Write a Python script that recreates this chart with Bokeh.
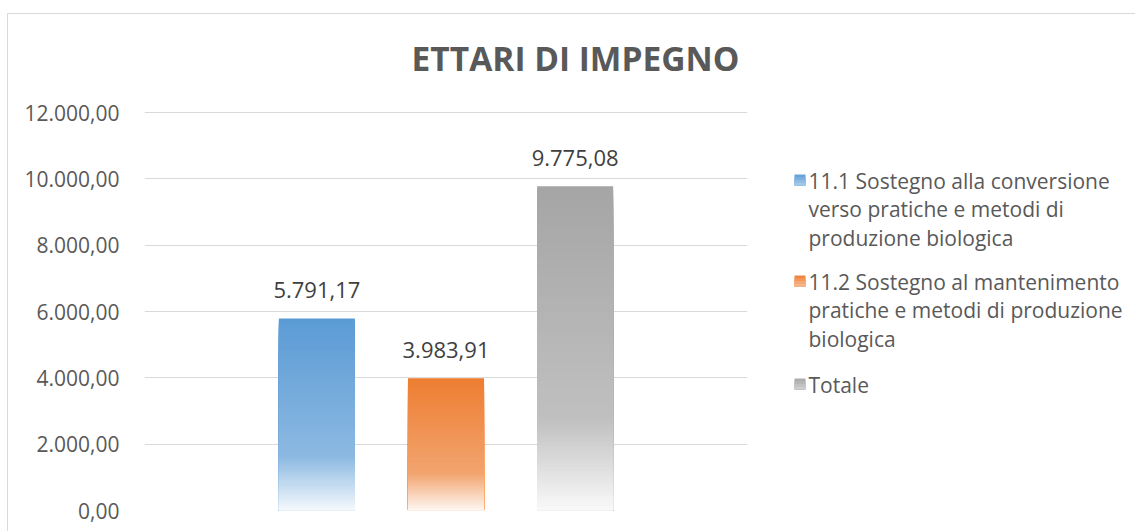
from bokeh.plotting import figure
from bokeh.layouts import row
from bokeh.models import Range1d, FixedTicker, ColumnDataSource
from bokeh.embed import file_html
from bokeh.resources import INLINE
from bokeh.core.properties import value

# ---------------- data ----------------
title_text = "ETTARI DI IMPEGNO"
series_names = [
    "11.1 Sostegno alla conversione verso pratiche e metodi di produzione biologica",
    "11.2 Sostegno al mantenimento pratiche e metodi di produzione biologica",
    "Totale",
]
legend_lines = [
    ["11.1 Sostegno alla conversione", "verso pratiche e metodi di", "produzione biologica"],
    ["11.2 Sostegno al mantenimento", "pratiche e metodi di produzione", "biologica"],
    ["Totale"],
]
series_values = [5791.17, 3983.91, 9775.08]
series_colors = ["#5B9BD5", "#ED7D31", "#A5A5A5"]
y_ticks = [0, 2000, 4000, 6000, 8000, 10000, 12000]
y_tick_labels = ["0,00", "2.000,00", "4.000,00", "6.000,00", "8.000,00", "10.000,00", "12.000,00"]


def it_fmt(v):
    s = f"{v:,.2f}"
    return s.replace(",", "X").replace(".", ",").replace("X", ".")


def hex_to_rgb(h):
    h = h.lstrip("#")
    return tuple(int(h[i:i + 2], 16) for i in (0, 2, 4))


def tint(h, f):
    r, g, b = hex_to_rgb(h)
    return "#%02x%02x%02x" % tuple(int(round(c + (255 - c) * f)) for c in (r, g, b))


def fade(t):
    # t: 0 at bar top, 1 at bar bottom -> amount of white mixed in
    stops = [(0.0, 0.0), (0.72, 0.30), (1.0, 0.94)]
    for (t0, f0), (t1, f1) in zip(stops[:-1], stops[1:]):
        if t <= t1:
            return f0 + (f1 - f0) * (t - t0) / (t1 - t0)
    return stops[-1][1]


FONT = "Open Sans"
TXT = "#595959"
BORDER = "1px solid #D9D9D9"

# ---------------- layout (page pixels) ----------------
PAGE_TOP = 14          # first pixel below the top border
FRAME_LEFT, FRAME_RIGHT = 144, 747
PX_TOP_TICK, PX_ZERO = 112, 510   # pixel rows of the top tick and of zero
X_LO, X_HI = -1.335, 3.335

y_top_value = y_ticks[-1] * (PX_ZERO - PAGE_TOP) / (PX_ZERO - PX_TOP_TICK)


def px_to_x(px):
    return X_LO + (px - FRAME_LEFT) * (X_HI - X_LO) / (FRAME_RIGHT - FRAME_LEFT)


def px_to_y(py):
    return (PX_ZERO - py) * y_ticks[-1] / (PX_ZERO - PX_TOP_TICK)


# ---------------- chart ----------------
p = figure(
    width=752, height=518,
    x_range=Range1d(X_LO, X_HI), y_range=Range1d(0, y_top_value),
    output_backend="svg", toolbar_location=None,
    min_border_left=FRAME_LEFT - 8, min_border_right=13, min_border_top=0, min_border_bottom=22,
)
p.styles = {"border-top": BORDER, "border-left": BORDER}
p.outline_line_color = None
p.background_fill_color = "white"
p.border_fill_color = "white"
p.xaxis.visible = False
p.xgrid.visible = False
p.ygrid.grid_line_color = "#D9D9D9"
p.ygrid.grid_line_width = 1
p.yaxis.ticker = FixedTicker(ticks=y_ticks)
p.yaxis.major_label_overrides = {t: l for t, l in zip(y_ticks, y_tick_labels)}
p.yaxis.axis_line_color = None
p.yaxis.major_tick_line_color = None
p.yaxis.minor_tick_line_color = None
p.yaxis.major_label_standoff = 19
p.yaxis.major_label_text_font = FONT
p.yaxis.major_label_text_font_size = "21px"
p.yaxis.major_label_text_color = TXT

# title
p.text(x=[px_to_x(575)], y=[px_to_y(57)], text=[title_text], text_align="center", text_baseline="middle",
       text_font=value(FONT), text_font_size="33.5px", text_font_style="bold", text_color=TXT)

# gradient bars: nested slices, tallest first
N = 90
xs, tops, cols = [], [], []
for k in range(N):
    t = k / N
    for i, (v, c) in enumerate(zip(series_values, series_colors)):
        xs.append(i)
        tops.append(v * (1 - t))
        cols.append(tint(c, fade(t + 0.5 / N)))
src = ColumnDataSource(dict(x=xs, top=tops, color=cols))
p.vbar(x="x", top="top", bottom=0, width=0.589, fill_color="color", line_color=None, source=src)

# data labels
lab_src = ColumnDataSource(dict(x=list(range(len(series_values))), y=series_values,
                                text=[it_fmt(v) for v in series_values]))
p.text(x="x", y="y", text="text", source=lab_src, text_align="center", text_baseline="alphabetic",
       y_offset=-28.5, text_font=value(FONT), text_font_size="22px", text_color="#404040")

# ---------------- legend panel (page-pixel coordinates; frame aligned with chart frame) ----------------
LX0, LX1 = 760, 1136
leg = figure(
    width=LX1 - LX0, height=518,
    x_range=Range1d(LX0, LX1), y_range=Range1d(PX_ZERO, PAGE_TOP),
    output_backend="svg", toolbar_location=None,
    min_border=0, min_border_left=0, min_border_right=0, min_border_top=0, min_border_bottom=22,
)
leg.styles = {"border-top": BORDER}
leg.outline_line_color = None
leg.axis.visible = False
leg.grid.visible = False
leg.background_fill_color = "white"
leg.border_fill_color = "white"

entry_base = [180.5, 281.5, 384.5]
square_top = [174.0, 275.0, 378.0]
line_gap = 28.3
tx, ty, tt = [], [], []
ql, qr, qt, qb, qc = [], [], [], [], []
for lines, c, b, st in zip(legend_lines, series_colors, entry_base, square_top):
    for j, ln in enumerate(lines):
        tx.append(809)
        ty.append(b + j * line_gap)
        tt.append(ln)
    # small gradient swatch
    for k in range(4):
        ql.append(795)
        qr.append(806)
        qt.append(st + k * 11 / 4)
        qb.append(st + 11)
        qc.append(tint(c, 0.08 + 0.12 * k))
leg.quad(left=ql, right=qr, top=qt, bottom=qb, fill_color=qc, line_color=None)
leg.text(x=tx, y=ty, text=tt, text_align="left", text_baseline="alphabetic",
         text_font=value(FONT), text_font_size="21px", text_color=TXT)

layout = row(p, leg)
layout.margin = (13, 0, 0, 7)
open("out.html", "w").write(file_html(layout, INLINE))
